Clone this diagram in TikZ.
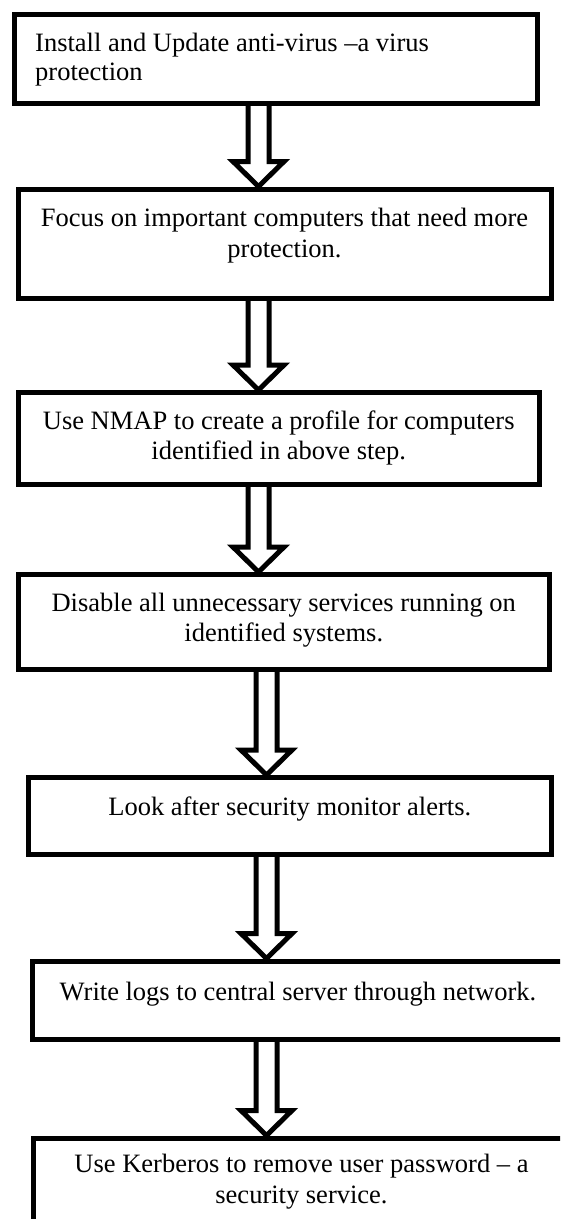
\documentclass[tikz,border=0pt]{standalone}
\usepackage{fontspec}
\setmainfont{Liberation Serif}
\usetikzlibrary{calc}
\tikzset{
  stepbox/.style={draw=black, line width=5pt, rectangle, inner sep=0pt, line join=miter},
  txt/.style={font=\fontsize{26.5}{30}\selectfont, inner sep=0pt, anchor=base},
  hollow/.style={draw=black, line width=5pt, line join=miter,
    to path={let \p1=(\tikztostart), \p2=(\tikztotarget) in
      (\x1-10.5pt,\y1) -- (\x1-10.5pt,\y2+25pt) -- (\x1-25.5pt,\y2+25pt) -- (\x1,\y2)
      -- (\x1+25.5pt,\y2+25pt) -- (\x1+10.5pt,\y2+25pt) -- (\x1+10.5pt,\y1)}}
}
\begin{document}
\begin{tikzpicture}[x=1pt,y=1pt]
\useasboundingbox (0,0) rectangle (560,-1219);
\fill[white] (0,0) rectangle (560,-1219);
\clip (0,0) rectangle (560,-1219);

\coordinate (ax1) at (258.5,0);
\coordinate (ax2) at (266.5,0);

% boxes
\node[stepbox, minimum width=523pt, minimum height=89pt] (b1) at (276,-59) {};
\node[stepbox, minimum width=533pt, minimum height=109pt] (b2) at (284.5,-243.5) {};
\node[stepbox, minimum width=521.5pt, minimum height=92pt] (b3) at (278.75,-438.5) {};
\node[stepbox, minimum width=531.5pt, minimum height=95pt] (b4) at (283.75,-622) {};
\node[stepbox, minimum width=522.5pt, minimum height=77pt] (b5) at (289.75,-816) {};
\node[stepbox, minimum width=532pt, minimum height=78.5pt] (b6) at (298,-1000.25) {};
\node[stepbox, minimum width=536pt, minimum height=110pt] (b7) at (301.5,-1193) {};

% texts
\node[txt, anchor=base west] (t1a) at (35,-51) {Install and Update anti-virus –a virus};
\node[txt, anchor=base west] (t1b) at (35,-80) {protection};
\node[txt] (t2a) at (284.5,-226.5) {Focus on important computers that need more};
\node[txt] (t2b) at (284.5,-257) {protection.};
\node[txt] (t3a) at (278.75,-429) {Use NMAP to create a profile for computers};
\node[txt] (t3b) at (278.75,-459) {identified in above step.};
\node[txt] (t4a) at (283.75,-611) {Disable all unnecessary services running on};
\node[txt] (t4b) at (283.75,-641) {identified systems.};
\node[txt] (t5a) at (289.75,-815) {Look after security monitor alerts.};
\node[txt] (t6a) at (298,-1000) {Write logs to central server through network.};
\node[txt] (t7a) at (301.5,-1172) {Use Kerberos to remove user password – a};
\node[txt] (t7b) at (301.5,-1203) {security service.};

% hollow arrows
\draw[hollow] (b1.south -| ax1) to (b2.north -| ax1);
\draw[hollow] (b2.south -| ax1) to (b3.north -| ax1);
\draw[hollow] (b3.south -| ax1) to (b4.north -| ax1);
\draw[hollow] (b4.south -| ax2) to (b5.north -| ax2);
\draw[hollow] (b5.south -| ax2) to (b6.north -| ax2);
\draw[hollow] (b6.south -| ax2) to (b7.north -| ax2);
\end{tikzpicture}
\end{document}
